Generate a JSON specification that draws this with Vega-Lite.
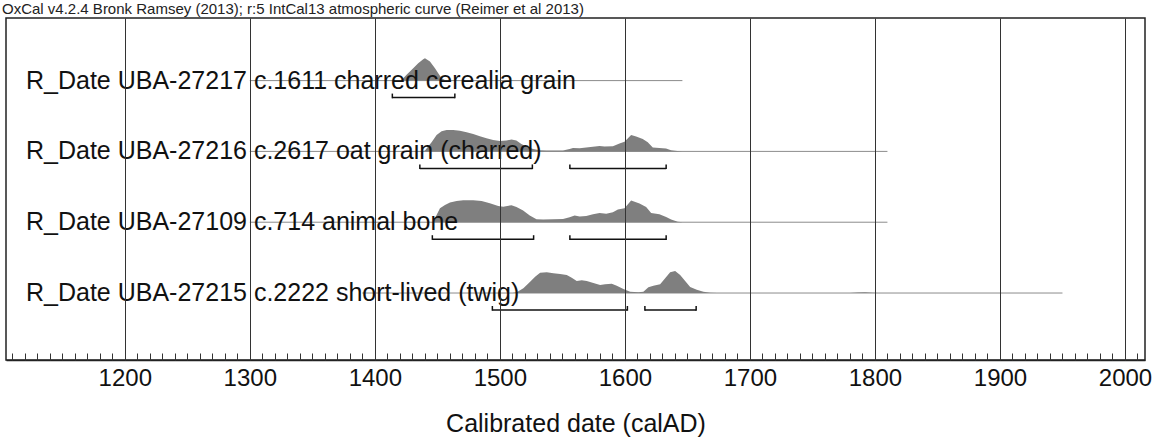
{
  "$schema": "https://vega.github.io/schema/vega-lite/v6.json",
  "width": 1139,
  "height": 342,
  "autosize": {"type": "none"},
  "padding": {"left": 6, "top": 18, "right": 16, "bottom": 83},
  "background": "white",
  "title": {"text": "OxCal v4.2.4 Bronk Ramsey (2013); r:5 IntCal13 atmospheric curve (Reimer et al 2013)", "anchor": "start", "frame": "group", "fontSize": 15, "font": "Liberation Sans", "fontWeight": "normal", "color": "#222", "offset": 1, "dx": -4},
  "config": {"font": "Liberation Sans", "view": {"stroke": "#222", "strokeWidth": 1.5}},
  "datasets": {
    "samples": [
      {"id": "UBA-27217", "row": 4, "label": "R_Date UBA-27217 c.1611 charred cerealia grain", "start": 1300, "end": 1646},
      {"id": "UBA-27216", "row": 3, "label": "R_Date UBA-27216 c.2617 oat grain (charred)", "start": 1300, "end": 1810},
      {"id": "UBA-27109", "row": 2, "label": "R_Date UBA-27109 c.714 animal bone", "start": 1300, "end": 1810},
      {"id": "UBA-27215", "row": 1, "label": "R_Date UBA-27215 c.2222 short-lived (twig)", "start": 1390, "end": 1950}
    ],
    "ranges": [
      {"id": "UBA-27217", "row": 4, "from": 1414, "to": 1464},
      {"id": "UBA-27216", "row": 3, "from": 1436, "to": 1526},
      {"id": "UBA-27216", "row": 3, "from": 1556, "to": 1633},
      {"id": "UBA-27109", "row": 2, "from": 1446, "to": 1527},
      {"id": "UBA-27109", "row": 2, "from": 1556, "to": 1633},
      {"id": "UBA-27215", "row": 1, "from": 1494, "to": 1602},
      {"id": "UBA-27215", "row": 1, "from": 1616, "to": 1657}
    ],
    "dist": [
      {"id": "UBA-27217", "row": 4, "year": 1419, "p": 0},
      {"id": "UBA-27217", "row": 4, "year": 1421.4, "p": 0.010},
      {"id": "UBA-27217", "row": 4, "year": 1425.4, "p": 0.081},
      {"id": "UBA-27217", "row": 4, "year": 1430.7, "p": 0.174},
      {"id": "UBA-27217", "row": 4, "year": 1434.7, "p": 0.244},
      {"id": "UBA-27217", "row": 4, "year": 1438.7, "p": 0.301},
      {"id": "UBA-27217", "row": 4, "year": 1440.1, "p": 0.315},
      {"id": "UBA-27217", "row": 4, "year": 1444.1, "p": 0.268},
      {"id": "UBA-27217", "row": 4, "year": 1448.1, "p": 0.174},
      {"id": "UBA-27217", "row": 4, "year": 1450.7, "p": 0.103},
      {"id": "UBA-27217", "row": 4, "year": 1453.4, "p": 0.032},
      {"id": "UBA-27217", "row": 4, "year": 1456, "p": 0.007},
      {"id": "UBA-27217", "row": 4, "year": 1458, "p": 0},

      {"id": "UBA-27216", "row": 3, "year": 1436, "p": 0},
      {"id": "UBA-27216", "row": 3, "year": 1440.1, "p": 0.011},
      {"id": "UBA-27216", "row": 3, "year": 1445.4, "p": 0.129},
      {"id": "UBA-27216", "row": 3, "year": 1449.4, "p": 0.232},
      {"id": "UBA-27216", "row": 3, "year": 1453.4, "p": 0.284},
      {"id": "UBA-27216", "row": 3, "year": 1457.4, "p": 0.302},
      {"id": "UBA-27216", "row": 3, "year": 1462.7, "p": 0.302},
      {"id": "UBA-27216", "row": 3, "year": 1468.0, "p": 0.292},
      {"id": "UBA-27216", "row": 3, "year": 1473.4, "p": 0.270},
      {"id": "UBA-27216", "row": 3, "year": 1478.7, "p": 0.246},
      {"id": "UBA-27216", "row": 3, "year": 1484.0, "p": 0.213},
      {"id": "UBA-27216", "row": 3, "year": 1489.3, "p": 0.185},
      {"id": "UBA-27216", "row": 3, "year": 1494.6, "p": 0.161},
      {"id": "UBA-27216", "row": 3, "year": 1500.0, "p": 0.147},
      {"id": "UBA-27216", "row": 3, "year": 1505.3, "p": 0.153},
      {"id": "UBA-27216", "row": 3, "year": 1509.3, "p": 0.167},
      {"id": "UBA-27216", "row": 3, "year": 1513.2, "p": 0.153},
      {"id": "UBA-27216", "row": 3, "year": 1517.2, "p": 0.105},
      {"id": "UBA-27216", "row": 3, "year": 1521.2, "p": 0.068},
      {"id": "UBA-27216", "row": 3, "year": 1526.5, "p": 0.035},
      {"id": "UBA-27216", "row": 3, "year": 1531.9, "p": 0.016},
      {"id": "UBA-27216", "row": 3, "year": 1537.2, "p": 0.011},
      {"id": "UBA-27216", "row": 3, "year": 1550.5, "p": 0.014},
      {"id": "UBA-27216", "row": 3, "year": 1555.8, "p": 0.035},
      {"id": "UBA-27216", "row": 3, "year": 1558.5, "p": 0.049},
      {"id": "UBA-27216", "row": 3, "year": 1563.8, "p": 0.044},
      {"id": "UBA-27216", "row": 3, "year": 1569.1, "p": 0.054},
      {"id": "UBA-27216", "row": 3, "year": 1574.4, "p": 0.064},
      {"id": "UBA-27216", "row": 3, "year": 1579.7, "p": 0.078},
      {"id": "UBA-27216", "row": 3, "year": 1583.7, "p": 0.068},
      {"id": "UBA-27216", "row": 3, "year": 1590.4, "p": 0.072},
      {"id": "UBA-27216", "row": 3, "year": 1595.7, "p": 0.110},
      {"id": "UBA-27216", "row": 3, "year": 1599.7, "p": 0.138},
      {"id": "UBA-27216", "row": 3, "year": 1605.0, "p": 0.232},
      {"id": "UBA-27216", "row": 3, "year": 1609.0, "p": 0.209},
      {"id": "UBA-27216", "row": 3, "year": 1614.3, "p": 0.175},
      {"id": "UBA-27216", "row": 3, "year": 1618.3, "p": 0.129},
      {"id": "UBA-27216", "row": 3, "year": 1622.3, "p": 0.054},
      {"id": "UBA-27216", "row": 3, "year": 1627.6, "p": 0.049},
      {"id": "UBA-27216", "row": 3, "year": 1632.9, "p": 0.040},
      {"id": "UBA-27216", "row": 3, "year": 1636.9, "p": 0.016},
      {"id": "UBA-27216", "row": 3, "year": 1643.6, "p": 0.001},
      {"id": "UBA-27216", "row": 3, "year": 1646, "p": 0},

      {"id": "UBA-27109", "row": 2, "year": 1445, "p": 0},
      {"id": "UBA-27109", "row": 2, "year": 1446.8, "p": 0.008},
      {"id": "UBA-27109", "row": 2, "year": 1448.1, "p": 0.056},
      {"id": "UBA-27109", "row": 2, "year": 1452.1, "p": 0.196},
      {"id": "UBA-27109", "row": 2, "year": 1456.1, "p": 0.244},
      {"id": "UBA-27109", "row": 2, "year": 1460.1, "p": 0.277},
      {"id": "UBA-27109", "row": 2, "year": 1465.4, "p": 0.299},
      {"id": "UBA-27109", "row": 2, "year": 1470.7, "p": 0.309},
      {"id": "UBA-27109", "row": 2, "year": 1478.7, "p": 0.309},
      {"id": "UBA-27109", "row": 2, "year": 1485.4, "p": 0.299},
      {"id": "UBA-27109", "row": 2, "year": 1492.0, "p": 0.267},
      {"id": "UBA-27109", "row": 2, "year": 1498.7, "p": 0.230},
      {"id": "UBA-27109", "row": 2, "year": 1502.7, "p": 0.220},
      {"id": "UBA-27109", "row": 2, "year": 1509.3, "p": 0.239},
      {"id": "UBA-27109", "row": 2, "year": 1513.3, "p": 0.216},
      {"id": "UBA-27109", "row": 2, "year": 1518.6, "p": 0.164},
      {"id": "UBA-27109", "row": 2, "year": 1523.9, "p": 0.093},
      {"id": "UBA-27109", "row": 2, "year": 1529.3, "p": 0.042},
      {"id": "UBA-27109", "row": 2, "year": 1534.6, "p": 0.037},
      {"id": "UBA-27109", "row": 2, "year": 1542.5, "p": 0.042},
      {"id": "UBA-27109", "row": 2, "year": 1550.5, "p": 0.047},
      {"id": "UBA-27109", "row": 2, "year": 1555.8, "p": 0.071},
      {"id": "UBA-27109", "row": 2, "year": 1559.8, "p": 0.093},
      {"id": "UBA-27109", "row": 2, "year": 1563.8, "p": 0.079},
      {"id": "UBA-27109", "row": 2, "year": 1569.1, "p": 0.089},
      {"id": "UBA-27109", "row": 2, "year": 1574.5, "p": 0.112},
      {"id": "UBA-27109", "row": 2, "year": 1579.8, "p": 0.131},
      {"id": "UBA-27109", "row": 2, "year": 1585.1, "p": 0.121},
      {"id": "UBA-27109", "row": 2, "year": 1590.4, "p": 0.141},
      {"id": "UBA-27109", "row": 2, "year": 1594.4, "p": 0.178},
      {"id": "UBA-27109", "row": 2, "year": 1599.7, "p": 0.196},
      {"id": "UBA-27109", "row": 2, "year": 1605.0, "p": 0.305},
      {"id": "UBA-27109", "row": 2, "year": 1611.7, "p": 0.263},
      {"id": "UBA-27109", "row": 2, "year": 1617.0, "p": 0.216},
      {"id": "UBA-27109", "row": 2, "year": 1621.0, "p": 0.131},
      {"id": "UBA-27109", "row": 2, "year": 1627.6, "p": 0.113},
      {"id": "UBA-27109", "row": 2, "year": 1633.0, "p": 0.075},
      {"id": "UBA-27109", "row": 2, "year": 1637.0, "p": 0.037},
      {"id": "UBA-27109", "row": 2, "year": 1642.3, "p": 0.008},
      {"id": "UBA-27109", "row": 2, "year": 1646.3, "p": 0},

      {"id": "UBA-27215", "row": 1, "year": 1510, "p": 0},
      {"id": "UBA-27215", "row": 1, "year": 1513.5, "p": 0.010},
      {"id": "UBA-27215", "row": 1, "year": 1518.8, "p": 0.066},
      {"id": "UBA-27215", "row": 1, "year": 1524.2, "p": 0.160},
      {"id": "UBA-27215", "row": 1, "year": 1528.2, "p": 0.230},
      {"id": "UBA-27215", "row": 1, "year": 1532.2, "p": 0.287},
      {"id": "UBA-27215", "row": 1, "year": 1537.5, "p": 0.292},
      {"id": "UBA-27215", "row": 1, "year": 1542.8, "p": 0.278},
      {"id": "UBA-27215", "row": 1, "year": 1548.2, "p": 0.268},
      {"id": "UBA-27215", "row": 1, "year": 1553.5, "p": 0.254},
      {"id": "UBA-27215", "row": 1, "year": 1557.5, "p": 0.216},
      {"id": "UBA-27215", "row": 1, "year": 1561.5, "p": 0.169},
      {"id": "UBA-27215", "row": 1, "year": 1565.5, "p": 0.179},
      {"id": "UBA-27215", "row": 1, "year": 1569.5, "p": 0.169},
      {"id": "UBA-27215", "row": 1, "year": 1574.8, "p": 0.141},
      {"id": "UBA-27215", "row": 1, "year": 1580.2, "p": 0.113},
      {"id": "UBA-27215", "row": 1, "year": 1584.2, "p": 0.123},
      {"id": "UBA-27215", "row": 1, "year": 1589.5, "p": 0.131},
      {"id": "UBA-27215", "row": 1, "year": 1593.5, "p": 0.103},
      {"id": "UBA-27215", "row": 1, "year": 1598.8, "p": 0.056},
      {"id": "UBA-27215", "row": 1, "year": 1604.2, "p": 0.018},
      {"id": "UBA-27215", "row": 1, "year": 1610.8, "p": 0.010},
      {"id": "UBA-27215", "row": 1, "year": 1614.8, "p": 0.018},
      {"id": "UBA-27215", "row": 1, "year": 1618.8, "p": 0.081},
      {"id": "UBA-27215", "row": 1, "year": 1622.8, "p": 0.103},
      {"id": "UBA-27215", "row": 1, "year": 1628.2, "p": 0.123},
      {"id": "UBA-27215", "row": 1, "year": 1632.2, "p": 0.208},
      {"id": "UBA-27215", "row": 1, "year": 1636.2, "p": 0.292},
      {"id": "UBA-27215", "row": 1, "year": 1640.2, "p": 0.311},
      {"id": "UBA-27215", "row": 1, "year": 1644.2, "p": 0.254},
      {"id": "UBA-27215", "row": 1, "year": 1648.2, "p": 0.169},
      {"id": "UBA-27215", "row": 1, "year": 1652.2, "p": 0.085},
      {"id": "UBA-27215", "row": 1, "year": 1657.5, "p": 0.047},
      {"id": "UBA-27215", "row": 1, "year": 1662.8, "p": 0.018},
      {"id": "UBA-27215", "row": 1, "year": 1668.2, "p": 0.004},
      {"id": "UBA-27215", "row": 1, "year": 1673.5, "p": 0},
      {"id": "UBA-27215", "row": 1, "year": 1780, "p": 0},
      {"id": "UBA-27215", "row": 1, "year": 1786, "p": 0.008},
      {"id": "UBA-27215", "row": 1, "year": 1792, "p": 0.010},
      {"id": "UBA-27215", "row": 1, "year": 1798, "p": 0.005},
      {"id": "UBA-27215", "row": 1, "year": 1802, "p": 0}
    ]
  },
  "resolve": {"axis": {"x": "independent"}},
  "layer": [
    {
      "data": {"name": "samples"},
      "mark": {"type": "rule", "color": "#8c8c8c", "strokeWidth": 1},
      "encoding": {
        "x": {"field": "start", "type": "quantitative", "scale": {"domain": [1105, 2016], "nice": false, "zero": false},
          "axis": {"orient": "bottom", "values": [1200, 1300, 1400, 1500, 1600, 1700, 1800, 1900, 2000], "grid": true, "gridColor": "#333", "gridWidth": 1, "ticks": false, "tickSize": 0, "labelFontSize": 24, "labelColor": "#111", "labelPadding": 6, "labelFont": "Liberation Sans", "format": "d", "domain": true, "domainColor": "#222", "domainWidth": 1.5, "title": "Calibrated date (calAD)", "titleFontSize": 25, "titleFontWeight": "normal", "titleColor": "#111", "titleFont": "Liberation Sans", "titlePadding": 21, "zindex": 1}},
        "x2": {"field": "end"},
        "y": {"field": "row", "type": "quantitative", "scale": {"domain": [0.054, 4.884], "nice": false, "zero": false}, "axis": null}
      }
    },
    {
      "data": {"name": "dist"},
      "transform": [{"calculate": "datum.row + datum.p", "as": "top"}],
      "mark": {"type": "area", "color": "#7f7f7f", "interpolate": "linear"},
      "encoding": {
        "x": {"field": "year", "type": "quantitative",
          "axis": {"orient": "bottom", "values": [1110,1120,1130,1140,1150,1160,1170,1180,1190,1200,1210,1220,1230,1240,1250,1260,1270,1280,1290,1300,1310,1320,1330,1340,1350,1360,1370,1380,1390,1400,1410,1420,1430,1440,1450,1460,1470,1480,1490,1500,1510,1520,1530,1540,1550,1560,1570,1580,1590,1600,1610,1620,1630,1640,1650,1660,1670,1680,1690,1700,1710,1720,1730,1740,1750,1760,1770,1780,1790,1800,1810,1820,1830,1840,1850,1860,1870,1880,1890,1900,1910,1920,1930,1940,1950,1960,1970,1980,1990,2000,2010], "labels": false, "domain": false, "grid": false, "ticks": true, "tickSize": -7, "tickColor": "#333", "tickWidth": 1, "title": null, "zindex": 1}},
        "y": {"field": "top", "type": "quantitative"},
        "y2": {"field": "row"},
        "detail": {"field": "id"}
      }
    },
    {
      "data": {"name": "ranges"},
      "mark": {"type": "rule", "color": "#111", "strokeWidth": 1.5, "yOffset": 17},
      "encoding": {
        "x": {"field": "from", "type": "quantitative", "axis": null},
        "x2": {"field": "to"},
        "y": {"field": "row", "type": "quantitative"}
      }
    },
    {
      "data": {"name": "ranges"},
      "mark": {"type": "rule", "color": "#111", "strokeWidth": 1.5, "yOffset": 13, "y2Offset": 17.7},
      "encoding": {
        "x": {"field": "from", "type": "quantitative", "axis": null},
        "y": {"field": "row", "type": "quantitative"},
        "y2": {"field": "row"}
      }
    },
    {
      "data": {"name": "ranges"},
      "mark": {"type": "rule", "color": "#111", "strokeWidth": 1.5, "yOffset": 13, "y2Offset": 17.7},
      "encoding": {
        "x": {"field": "to", "type": "quantitative", "axis": null},
        "y": {"field": "row", "type": "quantitative"},
        "y2": {"field": "row"}
      }
    },
    {
      "data": {"name": "samples"},
      "mark": {"type": "text", "align": "left", "baseline": "alphabetic", "dy": 8, "fontSize": 25, "font": "Liberation Sans", "color": "#111"},
      "encoding": {
        "x": {"datum": 1121, "type": "quantitative", "axis": null},
        "y": {"field": "row", "type": "quantitative"},
        "text": {"field": "label"}
      }
    }
  ]
}
